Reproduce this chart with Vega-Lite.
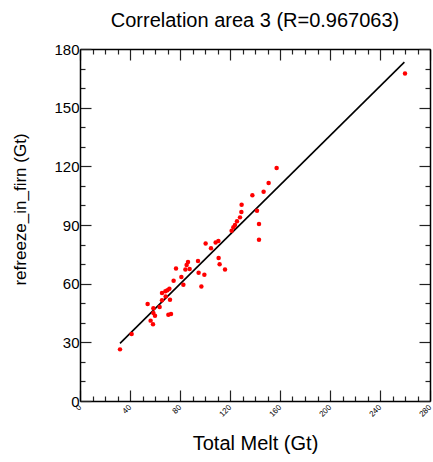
{
  "$schema": "https://vega.github.io/schema/vega-lite/v6.json",
  "autosize": "none",
  "width": 350,
  "height": 352,
  "padding": {"left": 80, "top": 49, "right": 3, "bottom": 61},
  "background": "white",
  "config": {
    "font": "Liberation Sans",
    "view": {"stroke": null},
    "axis": {"grid": false, "domainColor": "black", "domainWidth": 1.5, "tickColor": "#222", "tickWidth": 1.2, "labelColor": "black", "titleColor": "black", "titleFontWeight": "normal", "labelFont": "Liberation Sans", "titleFont": "Liberation Sans"}
  },
  "title": {"text": "Correlation area 3 (R=0.967063)", "fontSize": 20, "fontWeight": "normal", "font": "Liberation Sans", "anchor": "middle", "offset": 11},
  "datasets": {
    "pts": [
      {"melt": 32, "refreeze": 26.4}, {"melt": 41.3, "refreeze": 34.3}, {"melt": 54.1, "refreeze": 49.6},
      {"melt": 56.5, "refreeze": 41.1}, {"melt": 58.4, "refreeze": 39.2}, {"melt": 58.7, "refreeze": 47.4},
      {"melt": 58.7, "refreeze": 45.0}, {"melt": 60, "refreeze": 43.6}, {"melt": 63.7, "refreeze": 48.1},
      {"melt": 65.6, "refreeze": 55.2}, {"melt": 65.6, "refreeze": 51.5}, {"melt": 68.3, "refreeze": 56.1},
      {"melt": 68.5, "refreeze": 53.5}, {"melt": 69.9, "refreeze": 56.6}, {"melt": 71.5, "refreeze": 57.4},
      {"melt": 70.7, "refreeze": 44.1}, {"melt": 72.8, "refreeze": 44.5}, {"melt": 72, "refreeze": 51.8},
      {"melt": 74.9, "refreeze": 61.5}, {"melt": 76.8, "refreeze": 67.7}, {"melt": 81.1, "refreeze": 63.4},
      {"melt": 82.7, "refreeze": 59.5}, {"melt": 84.3, "refreeze": 67.2}, {"melt": 85.3, "refreeze": 69.5},
      {"melt": 86.4, "refreeze": 71.1}, {"melt": 87.7, "refreeze": 67.5}, {"melt": 94.4, "refreeze": 71.6},
      {"melt": 94.9, "refreeze": 65.6}, {"melt": 97.1, "refreeze": 58.6}, {"melt": 99.5, "refreeze": 64.6},
      {"melt": 100.5, "refreeze": 80.5}, {"melt": 104.8, "refreeze": 78.1}, {"melt": 108.5, "refreeze": 81.0},
      {"melt": 110.7, "refreeze": 81.8}, {"melt": 110.9, "refreeze": 73.1}, {"melt": 111.7, "refreeze": 69.9},
      {"melt": 116, "refreeze": 67.2}, {"melt": 121.3, "refreeze": 87.1}, {"melt": 122.7, "refreeze": 88.8},
      {"melt": 124, "refreeze": 90}, {"melt": 125.6, "refreeze": 91.9}, {"melt": 128, "refreeze": 93.9},
      {"melt": 129.1, "refreeze": 96.6}, {"melt": 129.3, "refreeze": 100.4}, {"melt": 137.9, "refreeze": 105.2},
      {"melt": 141.6, "refreeze": 97.3}, {"melt": 143.2, "refreeze": 90.5}, {"melt": 143.2, "refreeze": 82.5},
      {"melt": 146.9, "refreeze": 107}, {"melt": 150.9, "refreeze": 111.5}, {"melt": 157.3, "refreeze": 119.1},
      {"melt": 260, "refreeze": 167.5}
    ],
    "fit": [
      {"melt": 32, "refreeze": 29.5},
      {"melt": 259.5, "refreeze": 173.3}
    ]
  },
  "layer": [
    {
      "data": {"name": "fit"},
      "mark": {"type": "line", "color": "black", "strokeWidth": 1.6},
      "encoding": {
        "x": {"field": "melt", "type": "quantitative", "scale": {"domain": [0, 280], "nice": false, "zero": false},
          "axis": {"orient": "top", "values": [0,10,20,30,40,50,60,70,80,90,100,110,120,130,140,150,160,170,180,190,200,210,220,230,240,250,260,270,280], "labels": false, "title": null,
            "tickSize": {"condition": {"test": "datum.value % 40 == 0", "value": -11}, "value": -5}}},
        "y": {"field": "refreeze", "type": "quantitative", "scale": {"domain": [0, 180], "nice": false, "zero": false},
          "axis": {"orient": "right", "values": [0,10,20,30,40,50,60,70,80,90,100,110,120,130,140,150,160,170,180], "labels": false, "title": null,
            "tickSize": {"condition": {"test": "datum.value % 30 == 0", "value": -11}, "value": -5}}}
      }
    },
    {
      "data": {"name": "pts"},
      "mark": {"type": "circle", "color": "#ff0000", "opacity": 1, "size": 20},
      "encoding": {
        "x": {"field": "melt", "type": "quantitative",
          "axis": {"orient": "bottom", "values": [0,10,20,30,40,50,60,70,80,90,100,110,120,130,140,150,160,170,180,190,200,210,220,230,240,250,260,270,280],
            "labelExpr": "datum.value % 40 == 0 ? datum.label : ''", "labelAngle": -45, "labelAlign": "right", "labelBaseline": "middle", "labelFontSize": 8, "labelPadding": 16,
            "tickSize": {"condition": {"test": "datum.value % 40 == 0", "value": -11}, "value": -5},
            "title": "Total Melt (Gt)", "titleFontSize": 20, "titleBaseline": "alphabetic", "titleY": 48}},
        "y": {"field": "refreeze", "type": "quantitative",
          "axis": {"orient": "left", "values": [0,10,20,30,40,50,60,70,80,90,100,110,120,130,140,150,160,170,180],
            "labelExpr": "datum.value % 30 == 0 ? datum.label : ''", "labelFontSize": 15, "labelPadding": 12,
            "tickSize": {"condition": {"test": "datum.value % 30 == 0", "value": -11}, "value": -5},
            "title": "refreeze_in_firn (Gt)", "titleFontSize": 17, "titleAngle": -90, "titleBaseline": "middle", "titleAlign": "center", "titleX": -60, "titleY": 160}}
      }
    }
  ],
  "resolve": {"axis": {"x": "independent", "y": "independent"}}
}
